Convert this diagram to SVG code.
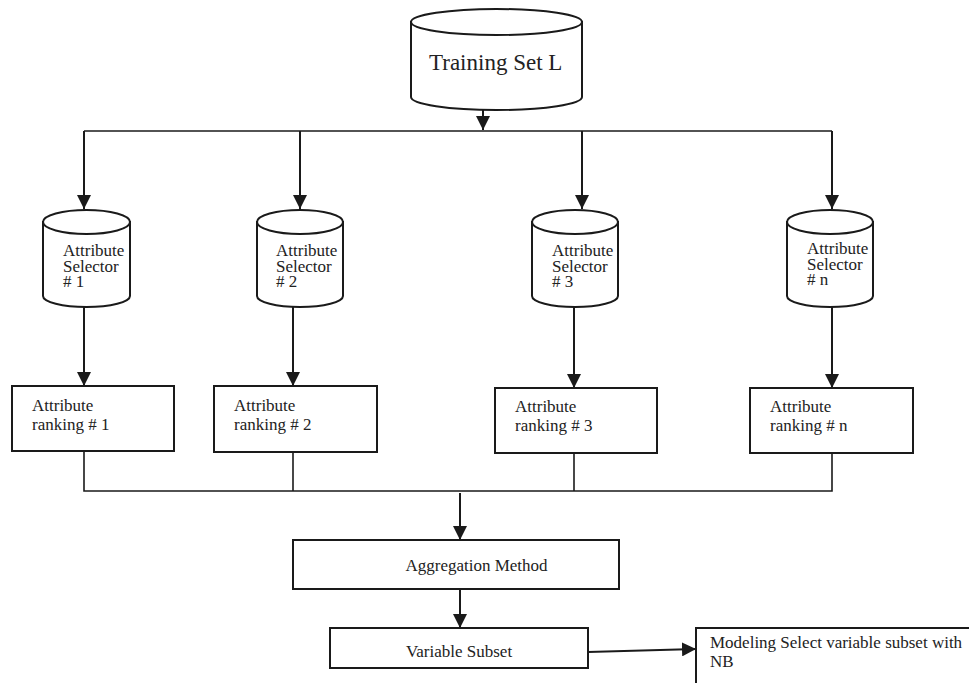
<svg xmlns="http://www.w3.org/2000/svg" width="969" height="683" viewBox="0 0 969 683">
<style>
.shape{fill:#fff;stroke:#1a1a1a;stroke-width:2}
.t{font-family:"Liberation Serif","Times New Roman",serif;font-size:17px;fill:#222}
.big{font-size:23px}
.ln{fill:none;stroke:#1a1a1a;stroke-width:2}
.thin{fill:none;stroke:#1a1a1a;stroke-width:1.6}
</style>
<defs>
<marker id="ah" markerWidth="14" markerHeight="14" refX="14" refY="7" orient="auto" markerUnits="userSpaceOnUse">
<path d="M0,0 L14,7 L0,14 Z" fill="#1a1a1a"/>
</marker>
</defs>
<rect width="969" height="683" fill="#fff"/>

<g id="connectors">
<line class="ln" x1="483" y1="110" x2="483" y2="130" marker-end="url(#ah)"/>
<polyline class="thin" points="84,131 832,131"/>
<line class="ln" x1="84" y1="131" x2="84" y2="209" marker-end="url(#ah)"/>
<line class="ln" x1="300" y1="131" x2="300" y2="209" marker-end="url(#ah)"/>
<line class="ln" x1="582" y1="131" x2="582" y2="209" marker-end="url(#ah)"/>
<line class="ln" x1="832" y1="131" x2="832" y2="209" marker-end="url(#ah)"/>
<line class="ln" x1="84" y1="307" x2="84" y2="386" marker-end="url(#ah)"/>
<line class="ln" x1="293" y1="307" x2="293" y2="386" marker-end="url(#ah)"/>
<line class="ln" x1="574" y1="307" x2="574" y2="388" marker-end="url(#ah)"/>
<line class="ln" x1="832" y1="307" x2="832" y2="388" marker-end="url(#ah)"/>
<polyline class="thin" points="84,451 84,491 832,491 832,453"/>
<line class="thin" x1="293" y1="452" x2="293" y2="491"/>
<line class="thin" x1="574" y1="453" x2="574" y2="491"/>
<line class="ln" x1="460" y1="493" x2="460" y2="540" marker-end="url(#ah)"/>
<line class="ln" x1="460" y1="589" x2="460" y2="628" marker-end="url(#ah)"/>
<line class="ln" x1="588" y1="652" x2="696" y2="649" marker-end="url(#ah)"/>
</g>

<g id="training-set">
<path class="shape" d="M411,22 L411,97 A85.5,13 0 0 0 582,97 L582,22 Z"/>
<ellipse class="shape" cx="496.5" cy="22" rx="85.5" ry="13"/>
<text class="t big" x="429" y="70">Training Set L</text>
</g>

<g id="selector-1">
<path class="shape" d="M43,222 L43,296 A43.5,11 0 0 0 130,296 L130,222 Z"/>
<ellipse class="shape" cx="86.5" cy="222" rx="43.5" ry="12"/>
<text class="t" x="63" y="256">Attribute</text>
<text class="t" x="63" y="272">Selector</text>
<text class="t" x="63" y="287"># 1</text>
</g>
<g id="selector-2">
<path class="shape" d="M257,222 L257,296 A43,11 0 0 0 343,296 L343,222 Z"/>
<ellipse class="shape" cx="300" cy="222" rx="43" ry="12"/>
<text class="t" x="276" y="256">Attribute</text>
<text class="t" x="276" y="272">Selector</text>
<text class="t" x="276" y="287"># 2</text>
</g>
<g id="selector-3">
<path class="shape" d="M532,222 L532,296 A43,11 0 0 0 618,296 L618,222 Z"/>
<ellipse class="shape" cx="575" cy="222" rx="43" ry="12"/>
<text class="t" x="552" y="256">Attribute</text>
<text class="t" x="552" y="272">Selector</text>
<text class="t" x="552" y="287"># 3</text>
</g>
<g id="selector-n">
<path class="shape" d="M787,222 L787,296 A43,11 0 0 0 873,296 L873,222 Z"/>
<ellipse class="shape" cx="830" cy="222" rx="43" ry="12"/>
<text class="t" x="807" y="254">Attribute</text>
<text class="t" x="807" y="270">Selector</text>
<text class="t" x="807" y="285"># n</text>
</g>

<g id="ranking-1">
<rect class="shape" x="12" y="386" width="162" height="65"/>
<text class="t" x="32" y="411">Attribute</text>
<text class="t" x="32" y="430">ranking # 1</text>
</g>
<g id="ranking-2">
<rect class="shape" x="214" y="386" width="163" height="66"/>
<text class="t" x="234" y="411">Attribute</text>
<text class="t" x="234" y="430">ranking # 2</text>
</g>
<g id="ranking-3">
<rect class="shape" x="495" y="388" width="162" height="65"/>
<text class="t" x="515" y="412">Attribute</text>
<text class="t" x="515" y="431">ranking # 3</text>
</g>
<g id="ranking-n">
<rect class="shape" x="750" y="388" width="163" height="65"/>
<text class="t" x="770" y="412">Attribute</text>
<text class="t" x="770" y="431">ranking # n</text>
</g>

<g id="aggregation">
<rect class="shape" x="293" y="540" width="326" height="49"/>
<text class="t" x="476.5" y="571" text-anchor="middle">Aggregation Method</text>
</g>
<g id="variable-subset">
<rect class="shape" x="330" y="628" width="258" height="40"/>
<text class="t" x="459" y="657" text-anchor="middle">Variable Subset</text>
</g>
<g id="modeling">
<rect class="shape" x="696" y="628" width="290" height="70"/>
<text class="t" x="710" y="648">Modeling Select variable subset with</text>
<text class="t" x="710" y="667">NB</text>
</g>
</svg>
